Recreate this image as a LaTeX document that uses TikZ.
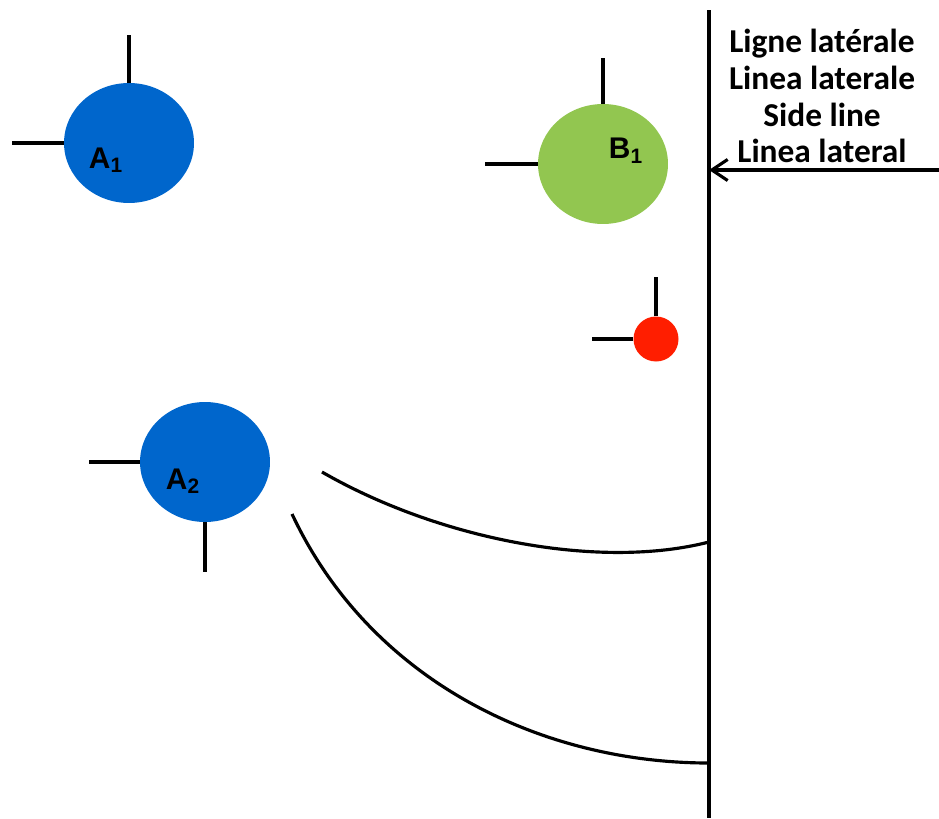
\documentclass[tikz,border=0pt]{standalone}
\usepackage{fontspec}
\setmainfont{Carlito}
\newfontfamily\labelfont{Liberation Sans}
\usepackage{tikz}
\usetikzlibrary{shapes.geometric,positioning,arrows.meta}
\definecolor{fishblue}{RGB}{0,102,204}
\definecolor{fishgreen}{RGB}{146,198,80}
\definecolor{fishred}{RGB}{255,30,0}

\tikzset{
    fish/.style={ellipse, inner sep=0pt, minimum width=2.6cm, minimum height=2.4cm},
    fin/.style={line width=2pt},
    wave/.style={line width=1.8pt},
    fishname/.style={font=\labelfont\bfseries\fontsize{17}{20}\selectfont}
}

\begin{document}
\begin{tikzpicture}[x=0.02cm, y=-0.02cm]
    \useasboundingbox (0,0) rectangle (939,818);

    % fish
    \node[fish, fill=fishblue] (A1) at (129,143) {};
    \node[fish, fill=fishgreen] (B1) at (603,164) {};
    \node[fish, fill=fishblue] (A2) at (205,462) {};
    \node[circle, fill=fishred, inner sep=0pt, minimum size=0.9cm] (prey) at (656,339) {};

    \node[fishname] (nameA1) at (106,160) {A\textsubscript{1}};
    \node[fishname] (nameB1) at (626,151) {B\textsubscript{1}};
    \node[fishname] (nameA2) at (183,481) {A\textsubscript{2}};

    % fins
    \draw[fin] (A1.north) -- ++(0,-48);
    \draw[fin] (A1.west) -- ++(-52,0);
    \draw[fin] (B1.north) -- ++(0,-46);
    \draw[fin] (B1.west) -- ++(-53,0);
    \draw[fin] (prey.north) -- ++(0,-39);
    \draw[fin] (prey.west) -- ++(-41,0);
    \draw[fin] (A2.west) -- ++(-51,0);
    \draw[fin] (A2.south) -- ++(0,50);

    % side line
    \coordinate (top) at (709,10);
    \coordinate (bottom) at (709,818);
    \draw[line width=2.5pt] (top) -- (bottom);

    \node[font=\bfseries\fontsize{19}{21}\selectfont, align=center] (sideline) at (822,96)
        {Ligne latérale\\Linea laterale\\Side line\\Linea lateral};
    \coordinate (edge) at (939,170);
    \coordinate (hit) at (709,170);
    \draw[line width=2pt, -{Straight Barb[length=9pt,width=12pt,line width=1.8pt]}] (edge) -- (hit);

    % pressure waves
    \coordinate (w1) at (322,472);
    \coordinate (e1) at (709,542);
    \coordinate (w2) at (292,514);
    \coordinate (e2) at (709,763);
    \draw[wave] (w1) .. controls (440,540) and (600,570) .. (e1);
    \draw[wave] (w2) .. controls (370,680) and (540,763) .. (e2);
\end{tikzpicture}
\end{document}
